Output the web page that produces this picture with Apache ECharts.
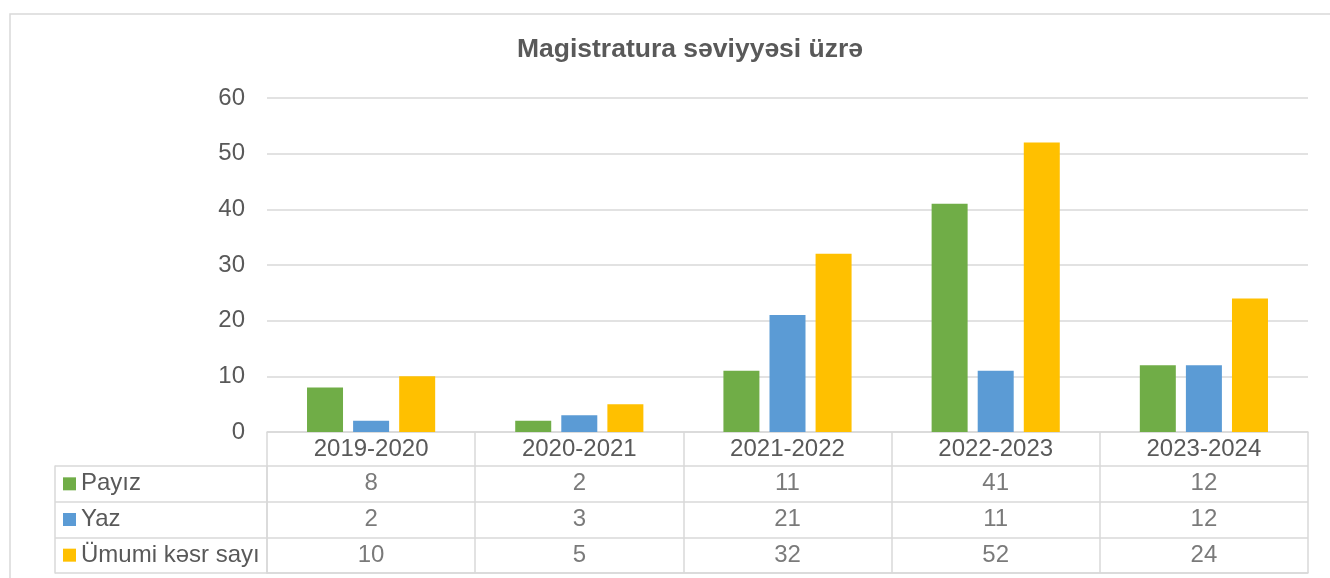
<!DOCTYPE html>
<html>
<head>
<meta charset="utf-8">
<script src="https://cdn.jsdelivr.net/npm/echarts@6/dist/echarts.min.js"></script>
<style>
html, body { margin: 0; padding: 0; background: #fff; }
#main { width: 1330px; height: 578px; }
</style>
</head>
<body>
<div id="main"></div>
<script>
// data
const categories = ['2019-2020', '2020-2021', '2021-2022', '2022-2023', '2023-2024'];
const seriesNames = ['Payız', 'Yaz', 'Ümumi kəsr sayı'];
const payiz = [8, 2, 11, 41, 12];
const yaz = [2, 3, 21, 11, 12];
const umumi = [10, 5, 32, 52, 24];
const yMin = 0, yMax = 60, yStep = 10;

const colors = ['#70AD47', '#5B9BD5', '#FFC000'];
const lineColor = '#d9d9d9';
const textColor = '#595959';
const font = 'Liberation Sans, Arial, sans-serif';

const values = [payiz, yaz, umumi];

// table cells: [column, row, value]
let cells = [];
values.forEach((row, r) => {
    row.forEach((v, c) => cells.push([c, r, v]));
});

let rich = { t: { fontSize: 24, color: textColor, fontFamily: font, padding: [0, 0, 0, 5] } };
colors.forEach((c, i) => {
    rich['s' + i] = { width: 13, height: 13, backgroundColor: c };
});

const gridLine = { color: lineColor, width: 1.5 };

let option = {
    animation: false,
    backgroundColor: '#fff',
    textStyle: { fontFamily: font },
    title: {
        text: 'Magistratura səviyyəsi üzrə',
        left: 685,
        top: 31,
        textAlign: 'center',
        textStyle: { fontSize: 26.5, fontWeight: 'bold', color: textColor, fontFamily: font }
    },
    graphic: [{
        type: 'rect',
        shape: { x: 10, y: 14, width: 1400, height: 700 },
        style: { fill: 'none', stroke: lineColor, lineWidth: 1.5 },
        silent: true
    }],
    grid: [
        { left: 267, right: 22, top: 98, bottom: 146, outerBoundsMode: 'none' },
        { left: 267, right: 22, top: 466, bottom: 5, outerBoundsMode: 'none' }
    ],
    xAxis: [{
        gridIndex: 0,
        type: 'category',
        data: categories,
        axisLine: { show: true, lineStyle: gridLine },
        axisTick: { show: true, length: 34, interval: 0, lineStyle: gridLine },
        axisLabel: { color: textColor, fontSize: 24, margin: 0, lineHeight: 34, interval: 0 },
        splitLine: { show: false }
    }, {
        gridIndex: 1,
        type: 'category',
        data: categories,
        axisLine: { show: true, lineStyle: gridLine },
        axisTick: { show: false },
        axisLabel: { show: false },
        splitLine: { show: true, interval: 0, lineStyle: gridLine }
    }],
    yAxis: [{
        gridIndex: 0,
        type: 'value',
        min: yMin,
        max: yMax,
        interval: yStep,
        axisLine: { show: false },
        axisTick: { show: false },
        axisLabel: { color: textColor, fontSize: 24, margin: 22 },
        splitLine: { show: true, lineStyle: gridLine }
    }, {
        gridIndex: 1,
        type: 'category',
        data: seriesNames,
        inverse: true,
        axisLine: { show: true, lineStyle: gridLine },
        axisTick: { show: true, length: 212, interval: 0, lineStyle: gridLine },
        axisLabel: {
            align: 'left',
            margin: 204,
            interval: 0,
            formatter: (val, idx) => '{s' + idx + '|}{t|' + val + '}',
            rich
        },
        splitLine: { show: true, interval: 0, lineStyle: gridLine }
    }, {
        gridIndex: 1,
        type: 'category',
        data: seriesNames,
        inverse: true,
        position: 'left',
        offset: 212,
        axisLine: { show: true, lineStyle: gridLine },
        axisTick: { show: false },
        axisLabel: { show: false },
        splitLine: { show: false }
    }],
    series: seriesNames.map((name, i) => ({
        name,
        type: 'bar',
        xAxisIndex: 0,
        yAxisIndex: 0,
        data: values[i],
        barWidth: 36,
        barGap: '28%',
        itemStyle: { color: colors[i] }
    })).concat([{
        name: 'table',
        type: 'scatter',
        xAxisIndex: 1,
        yAxisIndex: 1,
        data: cells,
        encode: { x: 0, y: 1 },
        symbol: 'rect',
        symbolSize: 1,
        itemStyle: { color: 'transparent' },
        label: {
            show: true,
            position: 'inside',
            formatter: p => p.value[2],
            color: textColor,
            fontSize: 24,
            fontFamily: font
        },
        silent: true
    }])
};

let chart = echarts.init(document.getElementById('main'), null, { renderer: 'canvas' });
chart.setOption(option);
</script>
</body>
</html>
